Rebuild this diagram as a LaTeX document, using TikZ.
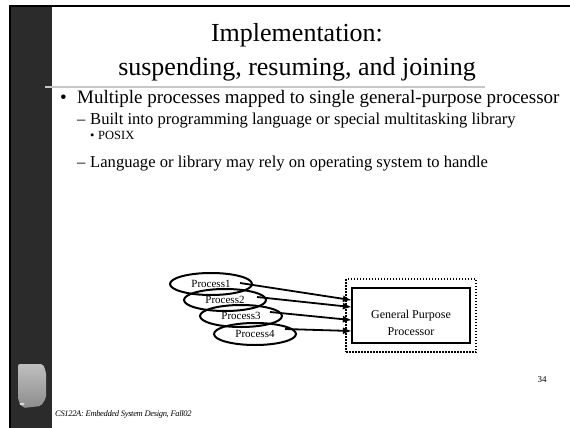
\documentclass[tikz,border=0pt]{standalone}
\usepackage{fontspec}
\setmainfont{Liberation Serif}
\usetikzlibrary{arrows.meta,shapes.geometric,calc}

\tikzset{
  proc/.style={draw, ellipse, line width=2pt, minimum width=82pt, minimum height=22pt,
               inner sep=0pt, font=\fontsize{11}{12}\selectfont},
  link/.style={line width=1.8pt, -{Latex[length=9pt,width=7pt]}, shorten >=-1pt},
  cpu/.style={draw, line width=2.2pt, minimum width=118pt, minimum height=55pt, inner sep=0pt},
  shell/.style={draw, line width=2pt, dash pattern=on 1.5pt off 1.5pt, minimum width=130pt,
                minimum height=73pt, inner sep=0pt},
  plain/.style={inner sep=0pt, anchor=base west},
  lvlone/.style={plain, font=\fontsize{19}{20}\selectfont},
  lvltwo/.style={plain, font=\fontsize{16.6}{18}\selectfont},
  lvlthree/.style={plain, font=\fontsize{12.5}{14}\selectfont},
}

\begin{document}
\begin{tikzpicture}[x=1pt,y=-1pt]
\useasboundingbox (0,0) rectangle (570,428);

% side bar and top edge
\fill[black] (9,5.5) rectangle (570,7.5);
\fill[black] (9,5.5) rectangle (11,428);
\fill[black!83] (11,7.5) rectangle (52,428);

% logo on the side bar
\shade[top color=black!25, bottom color=black!45, rounded corners=2pt]
  (18,364) -- (43,364) -- (46,372) -- (46,398) -- (41,406) -- (23,408) -- (18,400) -- cycle;
\fill[white!85!black] (22,404) ellipse (2.5pt and 1.2pt);

% title
\node[inner sep=0pt, font=\fontsize{26}{28}\selectfont] (t1) at (297,35) {Implementation:};
\node[inner sep=0pt, font=\fontsize{26}{28}\selectfont] (t2) at (297,69) {suspending, resuming, and joining};
\draw[black!22, line width=2pt] (45,87) -- (485,87);

% bullet list
\node[lvlone] (b1m) at (60,103) {•};
\node[lvlone] (b1) at (77,103) {Multiple processes mapped to single general-purpose processor};
\node[lvltwo] (b2m) at (77,124) {–};
\node[lvltwo] (b2) at (90,124) {Built into programming language or special multitasking library};
\node[lvlthree] (b3m) at (90,139) {•};
\node[lvlthree] (b3) at (98,139) {POSIX};
\node[lvltwo] (b4m) at (77,167) {–};
\node[lvltwo] (b4) at (90,167) {Language or library may rely on operating system to handle};

% processes
\node[proc] (p1) at (211,284) {Process1};
\node[proc] (p2) at (225,300) {Process2};
\node[proc] (p3) at (241,316) {Process3};
\node[proc] (p4) at (255,334) {Process4};

% processor
\node[shell] (gp) at (411,315.5) {};
\node[cpu] (cpu) at (411,315.5) {};
\node[inner sep=0pt, align=center, font=\fontsize{12}{17}\selectfont] (cpul) at (411,323)
  {General Purpose\\Processor};

\coordinate (s1) at (240,283);
\coordinate (s2) at (257,297);
\coordinate (s3) at (270,312);
\coordinate (s4) at (285,329);
\coordinate (e1) at ([yshift=15.5pt]cpu.west);
\coordinate (e2) at ([yshift=8.5pt]cpu.west);
\coordinate (e3) at ([yshift=-4.5pt]cpu.west);
\coordinate (e4) at ([yshift=-15.5pt]cpu.west);
\draw[link] (s1) -- (e1);
\draw[link] (s2) -- (e2);
\draw[link] (s3) -- (e3);
\draw[link] (s4) -- (e4);

% footer
\node[inner sep=0pt, font=\fontsize{9}{11}\selectfont] (pg) at (542,380) {34};
\node[plain, font=\fontsize{8.5}{10}\selectfont\itshape] (ft) at (55,416)
  {\addfontfeature{LetterSpace=-4}CS122A: Embedded System Design, Fall02};
\end{tikzpicture}
\end{document}
